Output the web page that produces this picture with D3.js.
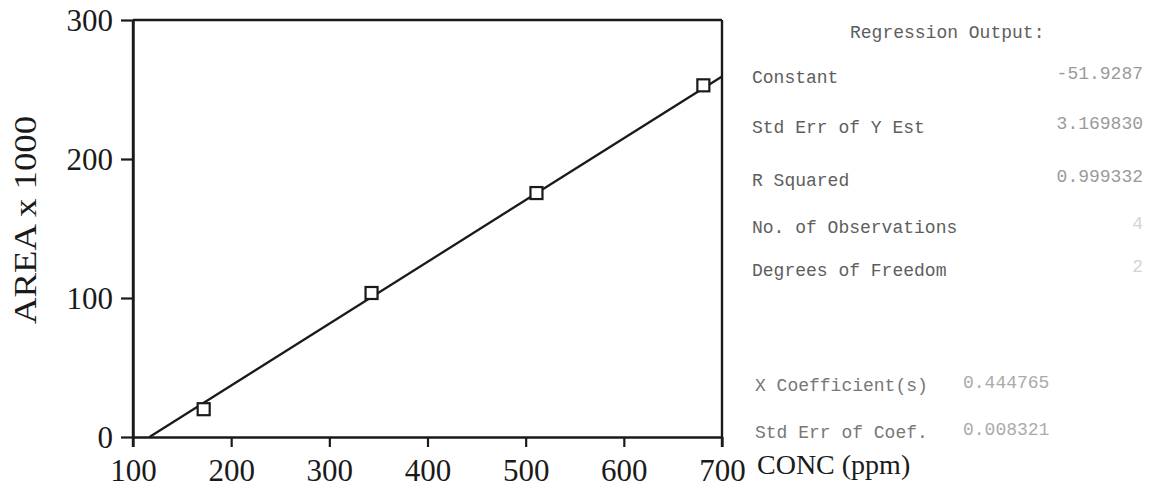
<!DOCTYPE html>
<html>
<head>
<meta charset="utf-8">
<script src="https://cdn.jsdelivr.net/npm/d3@7"></script>
<style>
  html, body { margin: 0; padding: 0; background: #fff; }
  svg { display: block; }
</style>
</head>
<body>
<svg id="chart" width="1150" height="495"></svg>
<script>
// Calibration standards: concentration (ppm) vs peak area (x 1000)
const concentrations = [172, 343, 511, 681];
const areas = [20, 103.6, 175.5, 253];

// Least-squares fit reported by the regression output
const regressionConstant = -51.9287;
const xCoefficient = 0.444765;

const xTicks = [100, 200, 300, 400, 500, 600, 700];
const yTicks = [0, 100, 200, 300];

const regressionLabels = ["Constant", "Std Err of Y Est", "R Squared", "No. of Observations", "Degrees of Freedom"];
const regressionValues = ["-51.9287", "3.169830", "0.999332", "4", "2"];
const coefficientLabels = ["X Coefficient(s)", "Std Err of Coef."];
const coefficientValues = ["0.444765", "0.008321"];

const svg = d3.select("#chart");
const plot = { left: 133, right: 722, top: 20, bottom: 437 };

const x = d3.scaleLinear().domain([100, 700]).range([plot.left, plot.right]);
const y = d3.scaleLinear().domain([0, 300]).range([plot.bottom, plot.top]);

const ink = "#1a1a1a";
const serif = "'Liberation Serif', 'Times New Roman', serif";
const mono = "'Liberation Mono', 'DejaVu Sans Mono', monospace";

// Axes
const xAxis = d3.axisBottom(x).tickValues(xTicks).tickSize(10).tickSizeOuter(0).tickPadding(14);
const yAxis = d3.axisLeft(y).tickValues(yTicks).tickSize(12).tickSizeOuter(0).tickPadding(8);

const gx = svg.append("g").attr("transform", `translate(0,${plot.bottom})`).call(xAxis);
const gy = svg.append("g").attr("transform", `translate(${plot.left},0)`).call(yAxis);

[gx, gy].forEach(g => {
  g.selectAll(".domain").attr("stroke", ink).attr("stroke-width", 2.4);
  g.selectAll(".tick line").attr("stroke", ink).attr("stroke-width", 2.2);
  g.selectAll(".tick text")
    .attr("fill", ink)
    .style("font-family", serif)
    .style("font-size", "31px");
});
gx.selectAll(".tick text").attr("dy", "0.66em");
gy.selectAll(".tick text").attr("dy", "0.34em");

// Left axis line extends down to the first x tick
svg.append("line")
  .attr("x1", plot.left).attr("x2", plot.left)
  .attr("y1", y(300)).attr("y2", plot.bottom + 10)
  .attr("stroke", ink).attr("stroke-width", 2.4);

// Frame: top and right edges
svg.append("line")
  .attr("x1", plot.left).attr("x2", plot.right)
  .attr("y1", plot.top).attr("y2", plot.top)
  .attr("stroke", ink).attr("stroke-width", 2.4);
svg.append("line")
  .attr("x1", plot.right).attr("x2", plot.right)
  .attr("y1", plot.top).attr("y2", plot.bottom + 10)
  .attr("stroke", ink).attr("stroke-width", 2.4);

// Regression line, from where it crosses zero to the right edge
const xStart = -regressionConstant / xCoefficient;
const fitLine = [xStart, 700].map(c => [c, regressionConstant + xCoefficient * c]);
svg.append("path")
  .datum(fitLine)
  .attr("d", d3.line().x(d => x(d[0])).y(d => y(d[1])))
  .attr("fill", "none")
  .attr("stroke", ink)
  .attr("stroke-width", 2.3);

// Data markers (open squares)
const size = 12;
svg.append("g").selectAll("rect")
  .data(concentrations.map((c, i) => ({ c, a: areas[i] })))
  .join("rect")
  .attr("x", d => x(d.c) - size / 2)
  .attr("y", d => y(d.a) - size / 2)
  .attr("width", size)
  .attr("height", size)
  .attr("fill", "#fff")
  .attr("stroke", ink)
  .attr("stroke-width", 2.2);

// Axis titles
svg.append("text")
  .attr("transform", "translate(36,220) rotate(-90)")
  .attr("text-anchor", "middle")
  .attr("fill", ink)
  .attr("textLength", 208)
  .attr("lengthAdjust", "spacingAndGlyphs")
  .style("font-family", serif)
  .style("font-size", "32px")
  .text("AREA x 1000");

svg.append("text")
  .attr("x", 757).attr("y", 474)
  .attr("fill", ink)
  .style("font-family", serif)
  .style("font-size", "28px")
  .text("CONC (ppm)");

// Regression output panel
const panel = svg.append("g").style("font-family", mono).style("font-size", "18px");
panel.append("text")
  .attr("x", 850).attr("y", 38)
  .attr("fill", "#5e5e5e")
  .text("Regression Output:");

const rowY = [83, 133, 186, 233, 276];
regressionLabels.forEach((lab, i) => {
  panel.append("text").attr("x", 752).attr("y", rowY[i]).attr("fill", "#5e5e5e").text(lab);
  panel.append("text").attr("x", 1143).attr("y", rowY[i] - 4)
    .attr("text-anchor", "end")
    .attr("fill", i >= 3 ? "#d4d4d4" : "#9a9a9a")
    .text(regressionValues[i]);
});

const coefY = [391, 438];
coefficientLabels.forEach((lab, i) => {
  panel.append("text").attr("x", 755).attr("y", coefY[i]).attr("fill", "#777").text(lab);
  panel.append("text").attr("x", 963).attr("y", coefY[i] - 3).attr("fill", "#aaa").text(coefficientValues[i]);
});
</script>
</body>
</html>
